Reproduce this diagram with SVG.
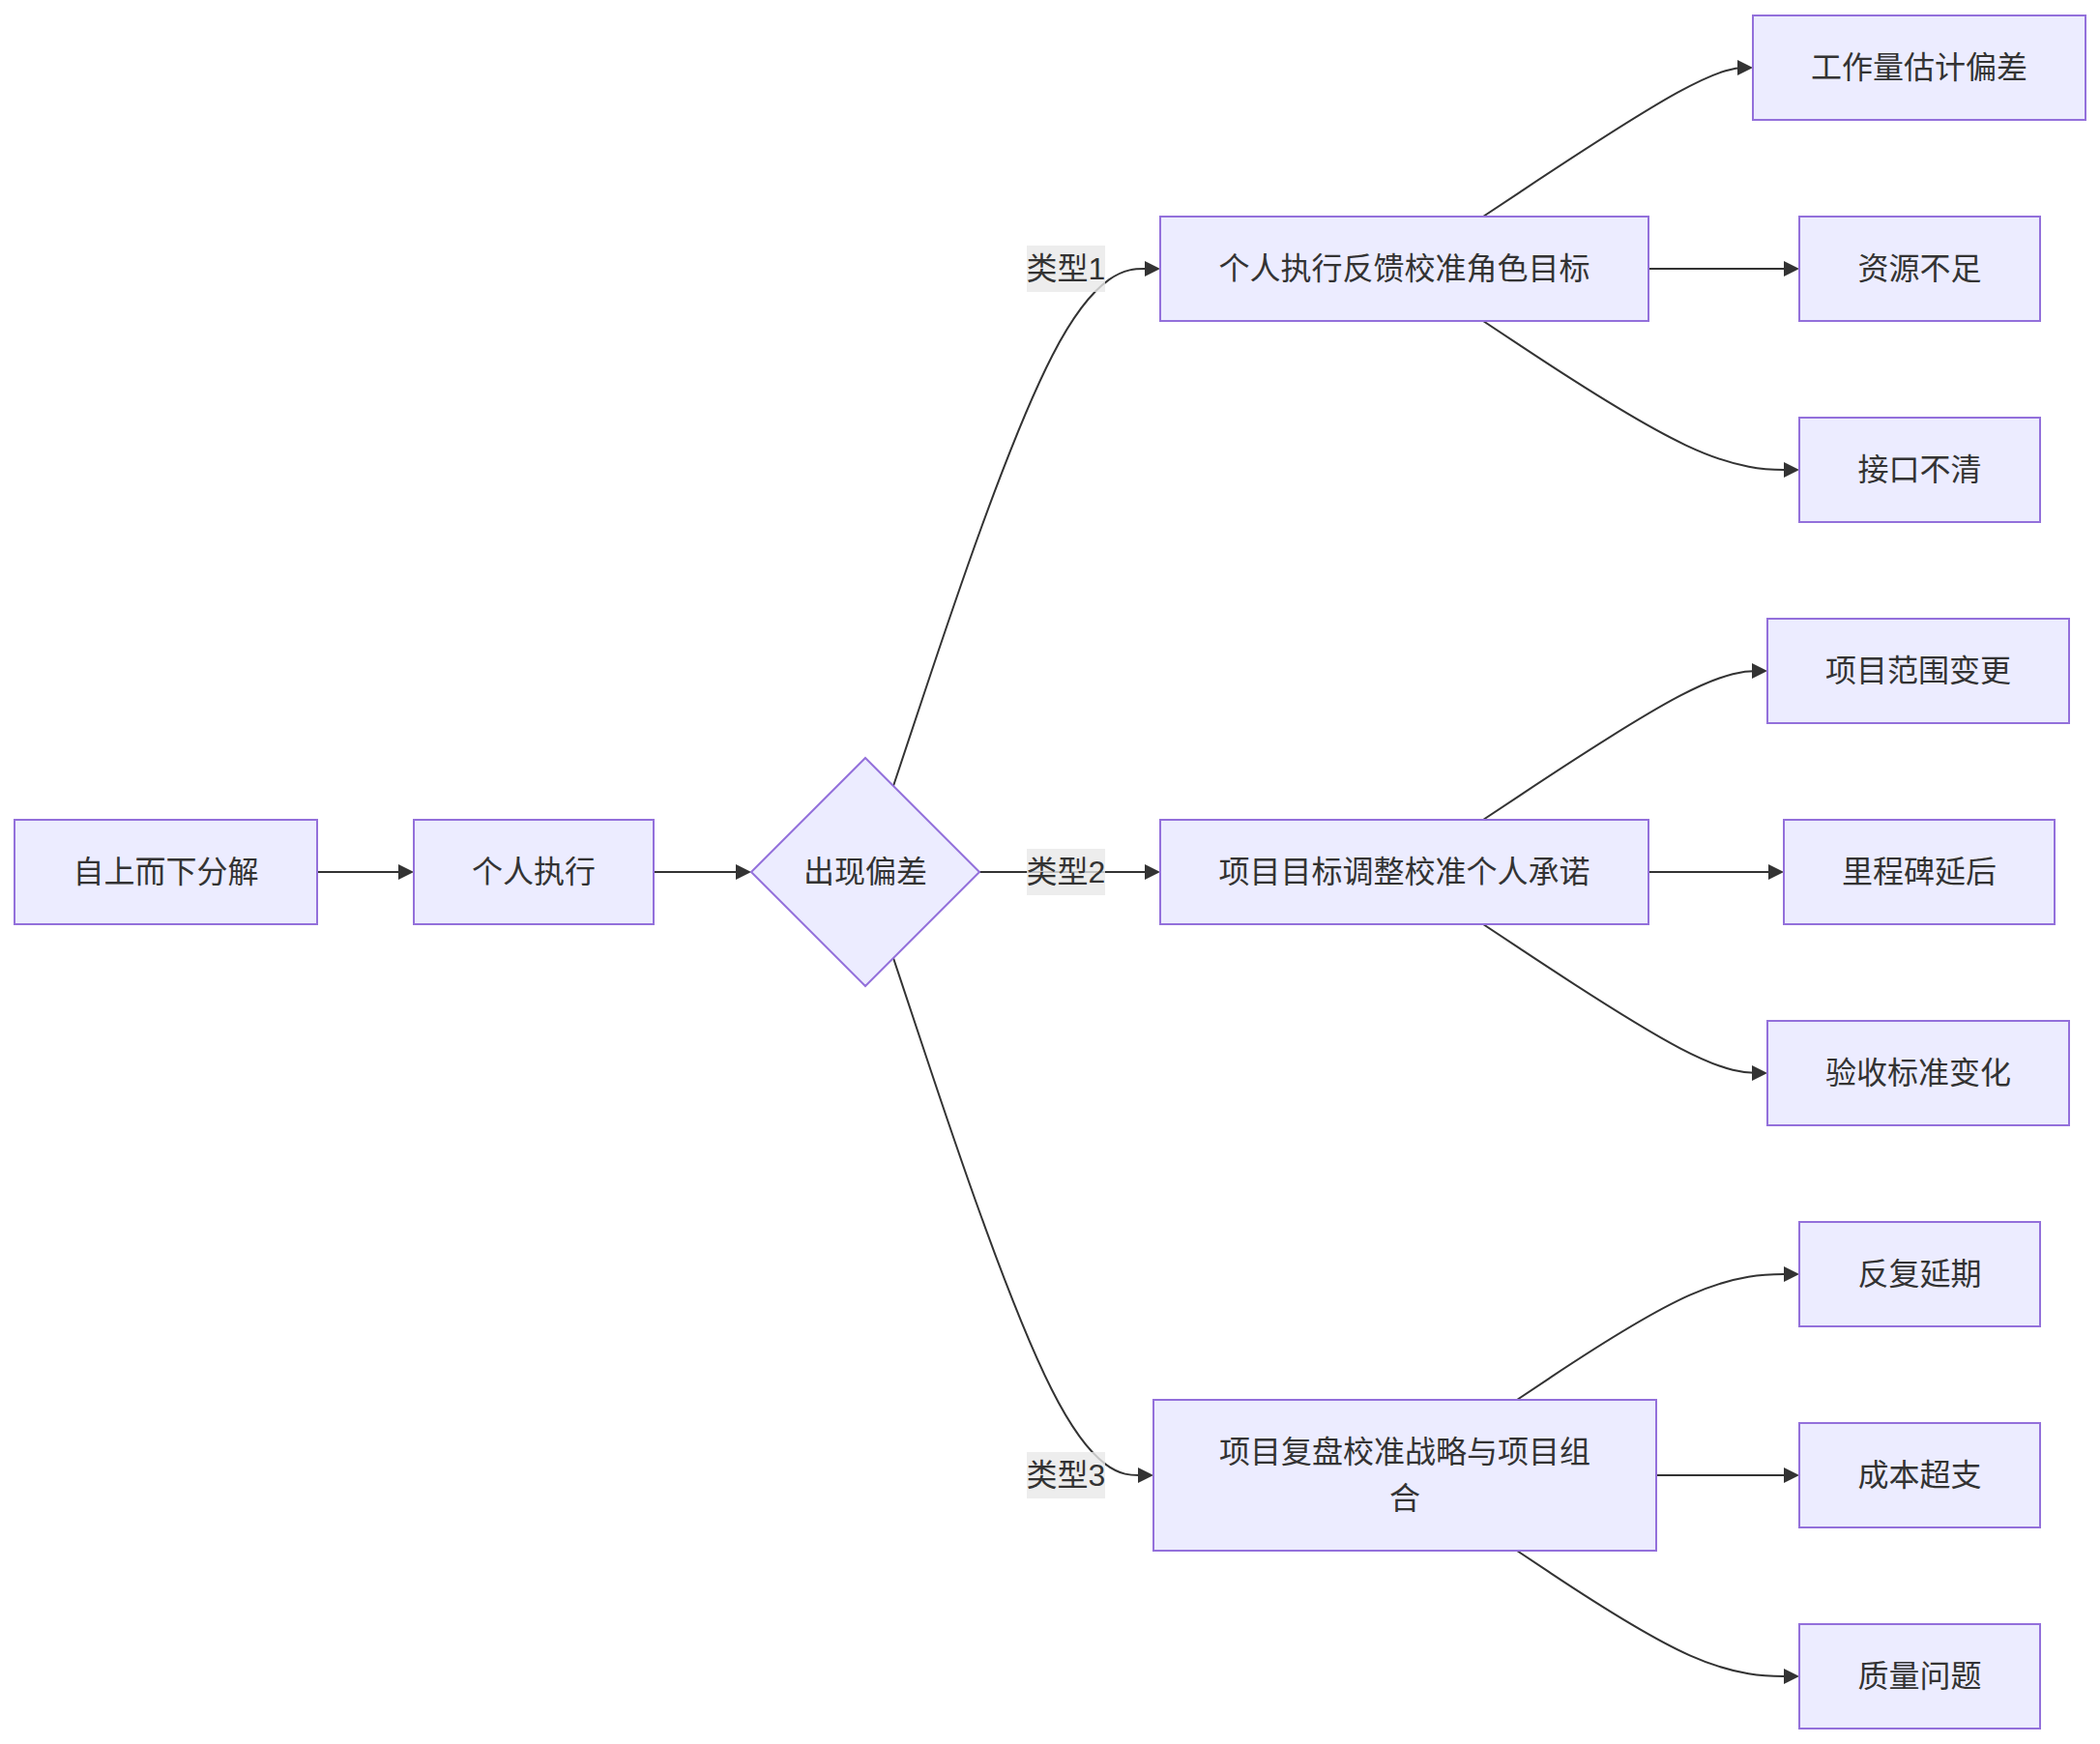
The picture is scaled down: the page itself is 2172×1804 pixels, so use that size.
<svg xmlns="http://www.w3.org/2000/svg" width="2172" height="1804" viewBox="0 0 2172 1804">
<style>
.node rect,.node polygon{fill:#ECECFF;stroke:#9370DB;stroke-width:2}
.node text,.lbl text{font-family:"Liberation Sans","Noto Sans CJK SC",sans-serif;font-size:32px;fill:#333;text-anchor:middle;dominant-baseline:central}
.edge{fill:none;stroke:#333;stroke-width:2}
.lbl rect{fill:#e8e8e8;fill-opacity:0.8}
</style>
<defs>
<marker id="arr" viewBox="0 0 10 10" refX="7.5" refY="5" markerWidth="16" markerHeight="16" markerUnits="userSpaceOnUse" orient="auto">
<path d="M0,0 L10,5 L0,10 z" fill="#333"/>
</marker>
</defs>
<g id="connectors">
<path class="edge" marker-end="url(#arr)" d="M328,902 L424,902"/>
<path class="edge" marker-end="url(#arr)" d="M676,902 L773,902"/>
<path class="edge" marker-end="url(#arr)" d="M924,813 L953.7,723.8 C983.3,634.7 1042.7,456.3 1088.7,367.2 C1134.7,278 1167.3,278 1183.7,278 L1196,278"/>
<path class="edge" marker-end="url(#arr)" d="M1013,902 L1196,902"/>
<path class="edge" marker-end="url(#arr)" d="M924,991 L953.7,1080.2 C983.3,1169.3 1042.7,1347.7 1087.5,1436.8 C1132.3,1526 1162.7,1526 1177.8,1526 L1189,1526"/>
<path class="edge" marker-end="url(#arr)" d="M1534,224 L1572.7,198.3 C1611.3,172.7 1688.7,121.3 1735.2,95.7 C1781.7,70 1797.3,70 1805.2,70 L1809,70"/>
<path class="edge" marker-end="url(#arr)" d="M1705,278 L1857,278"/>
<path class="edge" marker-end="url(#arr)" d="M1534,332 L1572.7,357.7 C1611.3,383.3 1688.7,434.7 1743.2,460.3 C1797.7,486 1829.3,486 1845.2,486 L1857,486"/>
<path class="edge" marker-end="url(#arr)" d="M1534,848 L1572.7,822.3 C1611.3,796.7 1688.7,745.3 1737.7,719.7 C1786.7,694 1807.3,694 1817.7,694 L1824,694"/>
<path class="edge" marker-end="url(#arr)" d="M1705,902 L1841,902"/>
<path class="edge" marker-end="url(#arr)" d="M1534,956 L1572.7,981.7 C1611.3,1007.3 1688.7,1058.7 1737.7,1084.3 C1786.7,1110 1807.3,1110 1817.7,1110 L1824,1110"/>
<path class="edge" marker-end="url(#arr)" d="M1569,1448 L1601.5,1426.3 C1634,1404.7 1699,1361.3 1747.7,1339.7 C1796.3,1318 1828.7,1318 1844.8,1318 L1857,1318"/>
<path class="edge" marker-end="url(#arr)" d="M1713,1526 L1857,1526"/>
<path class="edge" marker-end="url(#arr)" d="M1569,1604 L1601.5,1625.7 C1634,1647.3 1699,1690.7 1747.7,1712.3 C1796.3,1734 1828.7,1734 1844.8,1734 L1857,1734"/>
<g class="lbl"><rect x="1062" y="254" width="81" height="48"/><text x="1102.5" y="278">类型1</text></g>
<g class="lbl"><rect x="1062" y="878" width="81" height="48"/><text x="1102.5" y="902">类型2</text></g>
<g class="lbl"><rect x="1062" y="1502" width="81" height="48"/><text x="1102.5" y="1526">类型3</text></g>
</g>
<g id="n_top" class="node"><rect x="15" y="848" width="313" height="108"/><text x="171.5" y="902">自上而下分解</text></g>
<g id="n_exec" class="node"><rect x="428" y="848" width="248" height="108"/><text x="552" y="902">个人执行</text></g>
<g id="n_dev" class="node"><polygon points="895,784 1013,902 895,1020 777,902"/><text x="895" y="902">出现偏差</text></g>
<g id="n_t1" class="node"><rect x="1200" y="224" width="505" height="108"/><text x="1452.5" y="278">个人执行反馈校准角色目标</text></g>
<g id="n_t2" class="node"><rect x="1200" y="848" width="505" height="108"/><text x="1452.5" y="902">项目目标调整校准个人承诺</text></g>
<g id="n_t3" class="node"><rect x="1193" y="1448" width="520" height="156"/><text x="1453" y="1502">项目复盘校准战略与项目组</text><text x="1453" y="1550">合</text></g>
<g id="n_a1" class="node"><rect x="1813" y="16" width="344" height="108"/><text x="1985" y="70">工作量估计偏差</text></g>
<g id="n_a2" class="node"><rect x="1861" y="224" width="249" height="108"/><text x="1985.5" y="278">资源不足</text></g>
<g id="n_a3" class="node"><rect x="1861" y="432" width="249" height="108"/><text x="1985.5" y="486">接口不清</text></g>
<g id="n_b1" class="node"><rect x="1828" y="640" width="312" height="108"/><text x="1984" y="694">项目范围变更</text></g>
<g id="n_b2" class="node"><rect x="1845" y="848" width="280" height="108"/><text x="1985" y="902">里程碑延后</text></g>
<g id="n_b3" class="node"><rect x="1828" y="1056" width="312" height="108"/><text x="1984" y="1110">验收标准变化</text></g>
<g id="n_c1" class="node"><rect x="1861" y="1264" width="249" height="108"/><text x="1985.5" y="1318">反复延期</text></g>
<g id="n_c2" class="node"><rect x="1861" y="1472" width="249" height="108"/><text x="1985.5" y="1526">成本超支</text></g>
<g id="n_c3" class="node"><rect x="1861" y="1680" width="249" height="108"/><text x="1985.5" y="1734">质量问题</text></g>
</svg>
